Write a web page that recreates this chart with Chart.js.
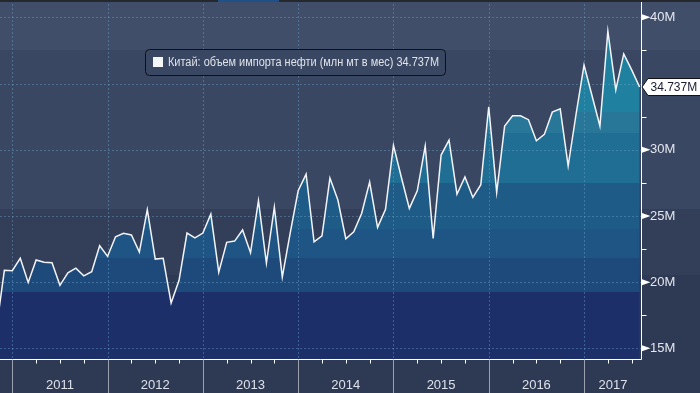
<!DOCTYPE html>
<html>
<head>
<meta charset="utf-8">
<script src="https://cdn.jsdelivr.net/npm/chart.js@4.4.0/dist/chart.umd.min.js"></script>
<style>
    html, body { margin: 0; padding: 0; background: #2e3a54; overflow: hidden; }
    #wrap { position: relative; width: 700px; height: 393px; }
</style>
</head>
<body>
<div id="wrap"><canvas id="chart" width="700" height="393"></canvas></div>
<script>
/* =========================================================
   DATA
========================================================= */
const seriesLabel = "Китай: объем импорта нефти (млн мт в мес)";
const firstMonth = -2;   // month index of first value, 0 = Jan 2011

// monthly values, millions of tonnes (Nov 2010 .. Aug 2017)
const imports = [
    16.5, 20.89,
    20.86, 21.80, 19.98, 21.67, 21.50, 21.47, 19.76, 20.71, 21.06, 20.48, 20.79, 22.75,
    21.95, 23.43, 23.69, 23.56, 22.27, 25.47, 21.74, 21.80, 18.42, 20.14, 23.71, 23.35,
    23.71, 25.14, 20.76, 23.01, 23.10, 23.94, 22.22, 26.15, 21.44, 25.67, 20.39, 23.73,
    26.90, 28.16, 23.05, 23.50, 27.86, 26.20, 23.28, 23.81, 25.20, 27.56, 24.14, 25.50,
    30.33, 27.90, 25.57, 26.90, 30.28, 23.31, 29.60, 30.73, 26.64, 27.94, 26.40, 27.36,
    33.25, 26.78, 31.79, 32.57, 32.57, 32.27, 30.68, 31.16, 32.84, 33.09, 28.79, 32.70,
    36.40, 34.10, 31.79, 38.96, 34.52, 37.24, 36.03, 34.737
];

const years = ["2011", "2012", "2013", "2014", "2015", "2016", "2017"];
const yearStarts = [0, 12, 24, 36, 48, 60, 72];   // month index of each Jan
const quarterTicks = [3, 6, 9, 15, 18, 21, 27, 30, 33, 39, 42, 45, 51, 54, 57, 63, 66, 69, 75, 78];
const yMajor = [15, 20, 25, 30, 35, 40];
const yMinor = [17.5, 22.5, 27.5, 32.5, 37.5];
const yLabels = [15, 20, 25, 30, 40];   // 35M sits under the value tag

const xMin = -1.55, xMax = 79.3;
const yMin = 14.12, yMax = 41.31;

/* --- points for the line --- */
const points = imports.map((v, i) => ({ x: firstMonth + i, y: v }));
const lastValue = imports[imports.length - 1];
const lastText = lastValue.toFixed(3) + "M";

/* --- year label positions: middle of the visible part of each year --- */
const yearCenters = yearStarts.map(s => (s + Math.min(s + 12, xMax)) / 2);

/* =========================================================
   STYLE
========================================================= */
const FONT = "'Liberation Sans', Arial, sans-serif";
const bgBands = [[0, "#414e6a"], [50, "#3a4762"], [209, "#333f59"], [275, "#2e3a54"]];
const fillBands = [
    [111.7, "#1f819f"], [133.3, "#287698"], [182.7, "#216e94"], [229, "#1f5b87"],
    [257.7, "#1f5584"], [291.7, "#1e4a7b"], [400, "#1c2f69"]
];

function bandGradient(ctx, area) {
    const g = ctx.createLinearGradient(0, 0, 0, area.bottom);
    let prev = 0;
    fillBands.forEach(([end, col]) => {
        const a = Math.min(prev / area.bottom, 1);
        const b = Math.min(end / area.bottom, 1);
        g.addColorStop(a, col);
        g.addColorStop(b, col);
        prev = end;
    });
    return g;
}

/* =========================================================
   PLUGINS
========================================================= */
const backdrop = {
    id: "backdrop",
    beforeDraw(chart) {
        const ctx = chart.ctx;
        ctx.save();
        bgBands.forEach(([y0, col], i) => {
            const y1 = i < bgBands.length - 1 ? bgBands[i + 1][0] : chart.height;
            ctx.fillStyle = col;
            ctx.fillRect(0, y0, chart.width, y1 - y0);
        });
        ctx.restore();
    }
};

const gridLines = {
    id: "gridLines",
    beforeDatasetDraw(chart) {
        const { ctx, chartArea: a, scales: { x, y } } = chart;
        ctx.save();
        ctx.strokeStyle = "rgba(105,160,200,0.45)";
        ctx.lineWidth = 1;
        ctx.setLineDash([2, 2]);
        yMajor.forEach(v => {
            const py = Math.round(y.getPixelForValue(v)) + 0.5;
            ctx.beginPath(); ctx.moveTo(a.left, py); ctx.lineTo(a.right, py); ctx.stroke();
        });
        yearStarts.forEach(m => {
            const px = Math.round(x.getPixelForValue(m)) + 0.5;
            ctx.beginPath(); ctx.moveTo(px, a.top); ctx.lineTo(px, a.bottom); ctx.stroke();
        });
        ctx.restore();
    }
};

const axisDecor = {
    id: "axisDecor",
    afterDraw(chart) {
        const { ctx, chartArea: a, scales: { x, y } } = chart;
        const ax = Math.round(a.right) - 0.5;
        const ay = Math.round(a.bottom) - 0.5;
        ctx.save();

        // axis lines
        ctx.strokeStyle = "#ffffff";
        ctx.lineWidth = 1;
        ctx.beginPath(); ctx.moveTo(ax, 0); ctx.lineTo(ax, ay); ctx.stroke();
        ctx.beginPath(); ctx.moveTo(0, ay); ctx.lineTo(ax, ay); ctx.stroke();

        // y ticks: triangles for majors, short marks for minors
        ctx.fillStyle = "#ffffff";
        yMajor.forEach(v => {
            if (v === 35) return;
            const py = y.getPixelForValue(v);
            ctx.beginPath();
            ctx.moveTo(ax + 0.5, py - 3);
            ctx.lineTo(ax + 9, py);
            ctx.lineTo(ax + 0.5, py + 3);
            ctx.closePath();
            ctx.fill();
        });
        yMinor.forEach(v => {
            const py = Math.round(y.getPixelForValue(v)) + 0.5;
            ctx.beginPath(); ctx.moveTo(ax, py); ctx.lineTo(ax + 5, py); ctx.stroke();
        });

        // x ticks: year separators and quarter marks
        ctx.strokeStyle = "#9aa0ad";
        yearStarts.forEach(m => {
            const px = Math.round(x.getPixelForValue(m)) + 0.5;
            ctx.beginPath(); ctx.moveTo(px, ay); ctx.lineTo(px, chart.height); ctx.stroke();
        });
        ctx.strokeStyle = "#ffffff";
        quarterTicks.forEach(m => {
            const px = Math.round(x.getPixelForValue(m)) + 0.5;
            ctx.beginPath(); ctx.moveTo(px, ay); ctx.lineTo(px, ay + 4); ctx.stroke();
        });

        // last value tag
        const ty = y.getPixelForValue(lastValue);
        ctx.beginPath();
        ctx.moveTo(ax + 0.5, ty);
        ctx.lineTo(ax + 6.5, ty - 8.5);
        ctx.lineTo(chart.width + 2, ty - 8.5);
        ctx.lineTo(chart.width + 2, ty + 8.5);
        ctx.lineTo(ax + 6.5, ty + 8.5);
        ctx.closePath();
        ctx.fillStyle = "#ffffff";
        ctx.fill();
        ctx.strokeStyle = "#111111";
        ctx.stroke();
        ctx.fillStyle = "#1a1c30";
        ctx.font = "12px " + FONT;
        ctx.textBaseline = "middle";
        ctx.textAlign = "left";
        ctx.fillText(lastText, ax + 9, ty + 0.5, 48);

        // legend box
        const bx = 145.5, by = 49.5, bw = 300, bh = 26;
        ctx.beginPath();
        ctx.roundRect(bx, by, bw, bh, 4);
        ctx.fillStyle = "#3a4762";
        ctx.fill();
        ctx.strokeStyle = "#0d1117";
        ctx.stroke();
        ctx.fillStyle = "#f4f6f8";
        ctx.fillRect(153, 57, 10, 10);
        ctx.fillStyle = "#dfe3ea";
        ctx.font = "12px " + FONT;
        ctx.textBaseline = "middle";
        ctx.fillText(seriesLabel + " " + lastText, 168, 62.5, 271);

        // strip at the very top
        ctx.fillStyle = "#25282d";
        ctx.fillRect(0, 0, chart.width, 2);
        ctx.fillStyle = "#1f5087";
        ctx.fillRect(218, 0, 61, 2);

        ctx.restore();
    }
};

/* =========================================================
   CHART
========================================================= */
function noPadding(scale) {
    scale.paddingLeft = 0;
    scale.paddingRight = 0;
    scale.paddingTop = 0;
    scale.paddingBottom = 0;
}

new Chart(document.getElementById("chart"), {
    type: "line",
    data: {
        datasets: [{
            label: seriesLabel,
            data: points,
            borderColor: "#f2f4f8",
            borderWidth: 1.5,
            pointRadius: 0,
            tension: 0,
            fill: "start",
            backgroundColor: c => {
                const area = c.chart.chartArea;
                if (!area) return "#1f5b87";
                return bandGradient(c.chart.ctx, area);
            }
        }]
    },
    options: {
        responsive: false,
        animation: false,
        devicePixelRatio: 1,
        layout: { padding: 0 },
        plugins: {
            legend: { display: false },
            tooltip: { enabled: false },
            filler: { drawTime: "beforeDatasetsDraw" }
        },
        scales: {
            x: {
                type: "linear",
                min: xMin,
                max: xMax,
                grid: { display: false, drawTicks: false },
                border: { display: false },
                afterBuildTicks: s => { s.ticks = yearCenters.map(v => ({ value: v })); },
                afterFit: s => { s.height = 33; noPadding(s); },
                ticks: {
                    autoSkip: false,
                    maxRotation: 0,
                    padding: 18,
                    color: "#dde1ea",
                    font: { family: FONT, size: 13 },
                    callback: (v, i) => years[i]
                }
            },
            y: {
                type: "linear",
                position: "right",
                min: yMin,
                max: yMax,
                grid: { display: false, drawTicks: false },
                border: { display: false },
                afterBuildTicks: s => { s.ticks = yLabels.map(v => ({ value: v })); },
                afterFit: s => { s.width = 58; noPadding(s); },
                ticks: {
                    padding: 8,
                    color: "#e3e6ee",
                    font: { family: FONT, size: 13 },
                    callback: v => v + "M"
                }
            }
        }
    },
    plugins: [backdrop, gridLines, axisDecor]
});
</script>
</body>
</html>
